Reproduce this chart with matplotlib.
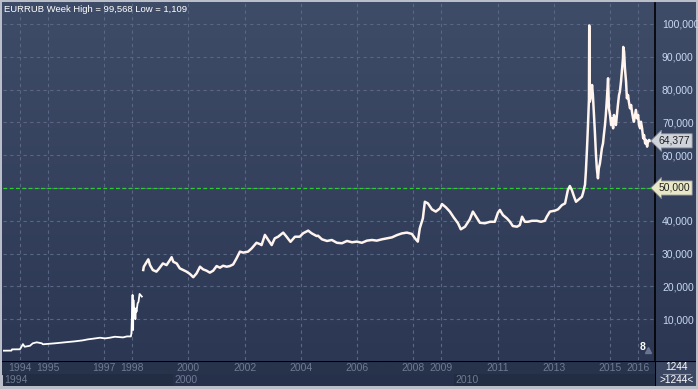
import numpy as np
import matplotlib
matplotlib.use("Agg")
import matplotlib.pyplot as plt

plt.rcParams['font.family'] = ['Liberation Sans', 'DejaVu Sans']

# weekly EURRUB (x = position on the time axis in years, y = rate * 1000)
t1 = [1993.40, 1993.70, 1993.72, 1994.00, 1994.03, 1994.11, 1994.17, 1994.36, 1994.46,
      1994.60, 1994.78, 1994.82, 1995.25, 1995.60, 1995.96, 1996.24, 1996.42, 1996.60,
      1996.85, 1997.03, 1997.20, 1997.38, 1997.67, 1997.81, 1997.95, 1997.97, 1998.01,
      1998.03, 1998.04, 1998.06, 1998.08, 1998.11, 1998.13, 1998.15, 1998.19, 1998.22,
      1998.26, 1998.29, 1998.34]
v1 = [400, 420, 800, 820, 1200, 2400, 1600, 1900, 2650,
      2950, 2650, 2350, 2650, 2950, 3250, 3550, 3850, 4050,
      4350, 4150, 4350, 4650, 4450, 4750, 4750, 5700, 17400,
      6700, 15850, 12300, 13300, 10000, 13300, 12300, 14850, 15250,
      17700, 17400, 16900]

t2 = [1998.39, 1998.41, 1998.57, 1998.63, 1998.73, 1998.86, 1998.95, 1999.09, 1999.22,
      1999.34, 1999.40, 1999.46, 1999.58, 1999.69, 1999.81, 1999.93, 2000.05, 2000.17,
      2000.29, 2000.41, 2000.52, 2000.64, 2000.76, 2000.88, 2001.00, 2001.12, 2001.23,
      2001.36, 2001.47, 2001.59, 2001.71, 2001.83, 2001.95, 2002.12, 2002.25, 2002.42,
      2002.54, 2002.60, 2002.72, 2002.84, 2002.96, 2003.07, 2003.19, 2003.37, 2003.49,
      2003.63, 2003.79, 2003.96, 2004.08, 2004.26, 2004.38, 2004.56, 2004.61, 2004.75,
      2004.93, 2005.10, 2005.28, 2005.46, 2005.64, 2005.82, 2005.99, 2006.17, 2006.35,
      2006.53, 2006.70, 2006.88, 2007.06, 2007.24, 2007.42, 2007.59, 2007.77, 2007.95,
      2008.06, 2008.16, 2008.23, 2008.34, 2008.41, 2008.52, 2008.66, 2008.80, 2008.95,
      2009.02, 2009.16, 2009.30, 2009.44, 2009.59, 2009.69, 2009.84, 2010.01, 2010.12,
      2010.23, 2010.37, 2010.55, 2010.73, 2010.90, 2011.01, 2011.08, 2011.19, 2011.33,
      2011.44, 2011.54, 2011.69, 2011.79, 2011.87, 2011.97, 2012.08, 2012.22, 2012.40,
      2012.54, 2012.68, 2012.75, 2012.86, 2013.04, 2013.15, 2013.29, 2013.40, 2013.50,
      2013.57, 2013.64, 2013.72, 2013.79, 2013.89, 2014.00, 2014.04, 2014.11, 2014.14,
      2014.18, 2014.21, 2014.25, 2014.26, 2014.28, 2014.32, 2014.36, 2014.39, 2014.43,
      2014.46, 2014.50, 2014.53, 2014.57, 2014.60, 2014.64, 2014.68, 2014.71, 2014.75,
      2014.78, 2014.82, 2014.85, 2014.89, 2014.93, 2014.96, 2015.00, 2015.04, 2015.07,
      2015.11, 2015.14, 2015.18, 2015.21, 2015.28, 2015.32, 2015.35, 2015.39, 2015.43,
      2015.46, 2015.47, 2015.50, 2015.53, 2015.57, 2015.60, 2015.64, 2015.67, 2015.71,
      2015.75, 2015.78, 2015.82, 2015.85, 2015.89, 2015.92, 2015.96, 2016.00, 2016.03,
      2016.07, 2016.10, 2016.14, 2016.18, 2016.21, 2016.25, 2016.28, 2016.32, 2016.35,
      2016.39, 2016.42]
v2 = [25000, 26000, 28250, 26500, 25000, 24500, 25400, 27000, 26500,
      28050, 28900, 27500, 27000, 25500, 25000, 24500, 23800, 22800,
      24000, 26000, 25200, 24800, 24200, 24800, 26200, 25700, 26300,
      26000, 26200, 26700, 28550, 30600, 30300, 30600, 31600, 33300,
      32900, 32600, 35700, 34150, 32600, 34650, 35150, 36400, 35150,
      33600, 35150, 35150, 36200, 37000, 36200, 35350, 35450, 34350,
      33850, 34150, 33300, 33150, 33850, 33450, 33650, 33300, 33950,
      34150, 33950, 34350, 34650, 34950, 35650, 36150, 36400, 36000,
      34650, 33650, 37700, 40750, 45800, 45300, 43500, 42800, 43800,
      45100, 44100, 42800, 41000, 39250, 37400, 38200, 40450, 42800,
      41300, 39400, 39250, 39700, 39700, 42450, 43300, 41750, 40750,
      39700, 38400, 38200, 38700, 41250, 39700, 39700, 40000, 40000,
      39700, 40000, 41250, 42800, 43100, 43500, 44800, 45300, 49400,
      50600, 49400, 47350, 45800, 46550, 47350, 48500, 51000, 55000,
      62000, 68000, 77000, 99568, 76300, 77850, 81400, 78350, 72250,
      67200, 60050, 56000, 52950, 56000, 57500, 60050, 62100, 63600,
      66150, 69200, 72250, 77350, 83450, 74300, 72250, 69200, 71250,
      68200, 72250, 70200, 69200, 75300, 78350, 79350, 82400, 86450,
      89500, 93000, 91550, 86450, 82400, 77350, 78350, 76300, 74300,
      75300, 73250, 71250, 70200, 72250, 73800, 71250, 72250, 69200,
      68200, 70200, 68200, 65150, 66150, 63600, 64650, 62600, 64150,
      64650, 64377]

last_value = 64377
ref_level = 50000
y_ticks = [10000, 20000, 30000, 40000, 50000, 60000, 70000, 80000, 90000, 100000]
year_ticks = [1994, 1995, 1997, 1998, 2000, 2002, 2004, 2006, 2008, 2009, 2011, 2013, 2015, 2016]
decade_ticks = [1994, 2000, 2010]
decade_edges = [1993.4, 1999.45, 2009.45, 2016.6]

W, H = 698, 389
fig = plt.figure(figsize=(W / 100, H / 100), dpi=100, facecolor='#b9bec8')

def box(x0, y0, x1, y1):
    return [x0 / W, 1 - y1 / H, (x1 - x0) / W, (y1 - y0) / H]

# background gradient behind plot + right scale
bg = fig.add_axes(box(2, 2, 696, 361))
bg.imshow(np.linspace(0, 1, 256).reshape(-1, 1), aspect='auto', extent=[0, 1, 0, 1],
          cmap=matplotlib.colors.LinearSegmentedColormap.from_list('g', ['#2b3753', '#3f4c68']),
          origin='lower')
bg.set_axis_off()

ax = fig.add_axes(box(3, 3, 655, 360))
ax.patch.set_alpha(0)
xmin, xmax = 1993.40, 2016.60
ax.set_xlim(xmin, xmax)
ax.set_ylim(-2440, 106400)

for yv in y_ticks:
    ax.axhline(yv, color='#5a6683', lw=0.8, ls=(0, (3, 3)), zorder=1)
for xv in year_ticks:
    ax.axvline(xv, color='#5a6683', lw=0.8, ls=(0, (3, 3)), zorder=1)
ax.axhline(ref_level, color='#2ecc2e', lw=0.9, ls=(0, (3, 2)), zorder=2)

ax.plot(t1, v1, color='white', lw=1.3, zorder=3)
ax.plot(t2, v2, color='#fff4ee', lw=1.8, zorder=3)

ax.set_xticks([])
ax.yaxis.tick_right()
ax.set_yticks(y_ticks)
# the 50,000 label is shown by the tag box instead
ax.set_yticklabels(['' if v == ref_level else '{:,}'.format(v) for v in y_ticks],
                   color='#c9d8f2', fontsize=7.5)
ax.tick_params(axis='y', length=0, pad=5)
for s in ['top', 'left', 'bottom']:
    ax.spines[s].set_visible(False)
ax.spines['right'].set_color('black')
ax.spines['right'].set_linewidth(1.2)

for val, fc in [(last_value, '#cfd3da'), (ref_level, '#e9e8c6')]:
    ax.annotate('{:,}'.format(val), xy=(1.0, val), xycoords=('axes fraction', 'data'),
                xytext=(2.5, 0), textcoords='offset points', va='center', ha='left',
                fontsize=7.5, color='#222222',
                bbox=dict(boxstyle='larrow,pad=0.2', fc=fc, ec='#8a8f99', lw=0.6),
                zorder=5, annotation_clip=False)

ax.text(0.002, 0.995, 'EURRUB Week High = {:,} Low = {:,}'.format(99568, 1109),
        transform=ax.transAxes, ha='left', va='top', color='white', fontsize=6.8)
ax.text(2016.17, 0, '8', color='white', fontsize=7.5, fontweight='bold', ha='center', va='bottom')
ax.plot([2016.35], [700], marker='^', color='#6a7590', ms=4)

# bottom time axis strip
bx = fig.add_axes(box(2, 361, 655, 386))
bx.set_xlim(xmin - 1 / 28.1, xmax)
bx.set_ylim(0, 2)
bx.axhspan(1, 2, color='#27324b')
shades = ['#222c42', '#26304a', '#222c42']
for i in range(3):
    bx.axvspan(decade_edges[i], decade_edges[i + 1], ymin=0, ymax=0.5, color=shades[i], lw=0)
bx.axhline(2, color='black', lw=1.5)
for yr in year_ticks:
    bx.text(yr, 1.45, str(yr), ha='center', va='center', color='#6f7a93', fontsize=7.5)
for yr, ed in zip(decade_ticks, decade_edges):
    bx.text(ed + 0.05, 0.5, str(yr), ha='left', va='center', color='#6f7a93', fontsize=7.5)
bx.set_axis_off()

cx = fig.add_axes(box(655, 361, 696, 386))
cx.set_xlim(0, 1)
cx.set_ylim(0, 2)
cx.axhspan(0, 2, color='#3b4762')
cx.axvline(0, color='black', lw=1.5)
cx.axhline(2, color='black', lw=1.5)
cx.plot([0.2, 0.85], [1.0, 1.0], color='#8f98ab', lw=0.8)
cx.text(0.52, 1.5, '1244', ha='center', va='center', color='white', fontsize=7.2)
cx.text(0.52, 0.45, '>1244<', ha='center', va='center', color='white', fontsize=7.2)
cx.set_axis_off()

fig.savefig('out.png', dpi=100, facecolor=fig.get_facecolor())
